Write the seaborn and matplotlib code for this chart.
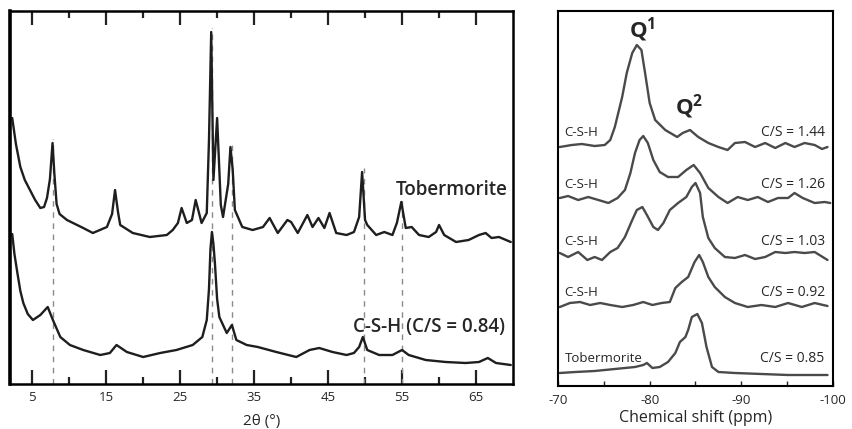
import numpy as np
import pandas as pd
import matplotlib
matplotlib.use("Agg")
import matplotlib.pyplot as plt
import seaborn as sns

# ---------------- XRD patterns (2θ in degrees, intensity in arbitrary units, offset) ----------------
tob_2theta = [2.3, 2.8, 3.4, 4.0, 4.7, 5.4, 6.1, 6.6, 7.0, 7.4, 7.75, 8.0, 8.3, 8.7, 9.7, 11.9,
              13.2, 15.1, 15.8, 16.2, 16.6, 16.9, 18.6, 20.9, 23.2, 24.0, 24.7, 25.2, 25.9, 26.6,
              27.1, 27.9, 28.6, 28.9, 29.2, 29.5, 30.0, 30.5, 30.8, 31.5, 31.8, 32.1, 32.4, 33.4,
              34.8, 36.2, 37.1, 38.2, 39.5, 40.0, 40.9, 42.2, 42.9, 43.7, 44.5, 45.2, 46.1, 47.5,
              48.5, 49.2, 49.6, 50.0, 50.3, 51.5, 52.6, 53.7, 54.3, 54.9, 55.5, 56.3, 57.3, 58.6,
              59.6, 60.0, 60.7, 62.3, 64.0, 65.4, 66.3, 67.1, 68.1, 69.7]
tob_int = [266, 240, 217, 204, 194, 184, 176, 177, 186, 205, 241, 210, 180, 170, 164, 156,
           151, 157, 170, 194, 172, 159, 151, 147, 149, 154, 161, 176, 161, 164,
           184, 161, 171, 244, 352, 204, 266, 179, 167, 200, 237, 215, 174, 157,
           154, 157, 166, 151, 164, 162, 151, 169, 157, 166, 156, 171, 151, 149,
           152, 167, 212, 164, 159, 149, 152, 149, 161, 182, 156, 157, 149, 147,
           152, 159, 149, 142, 144, 149, 151, 146, 147, 142]

csh_2theta = [2.3, 2.6, 3.0, 3.4, 3.8, 4.4, 5.1, 6.1, 7.1, 7.8, 8.8, 10.1, 11.9, 14.2, 15.5, 16.4,
              17.8, 20.0, 22.3, 24.5, 26.7, 28.0, 28.6, 28.9, 29.1, 29.3, 29.5, 29.7, 30.0, 30.3,
              31.3, 32.0, 32.6, 34.0, 35.5, 38.0, 40.7, 42.5, 43.8, 45.6, 47.5, 48.5, 49.2, 49.7,
              50.3, 51.9, 53.7, 55.0, 55.9, 58.2, 60.9, 63.6, 65.4, 66.6, 67.7, 69.7]
csh_int = [150, 130, 111, 93, 81, 70, 64, 69, 77, 64, 47, 39, 34, 29, 31, 39,
           32, 27, 31, 34, 39, 47, 64, 95, 135, 152, 140, 121, 85, 67,
           51, 59, 44, 39, 37, 32, 27, 34, 36, 32, 29, 31, 37, 47,
           34, 29, 29, 34, 29, 24, 22, 21, 22, 26, 21, 19]

# reflections shared by both phases
ref_lines = [7.8, 29.3, 32.0, 49.8, 55.0]

# ---------------- 29Si NMR spectra (ppm, stacked intensity) ----------------
nmr_ppm_144 = [-70.2, -71.5, -72.6, -74.0, -75.1, -75.7, -76.2, -77.0, -77.5, -78.1, -78.6, -79.1,
               -79.5, -80.0, -80.6, -81.7, -83.0, -83.6, -84.4, -85.3, -86.4, -87.5, -88.5, -89.3,
               -90.4, -91.5, -92.6, -93.7, -94.8, -95.8, -96.9, -98.0, -98.8, -99.4]
nmr_int_144 = [239, 241, 242, 240, 241, 246, 259, 289, 313, 333, 341, 336,
               313, 283, 266, 256, 249, 253, 256, 249, 243, 239, 236, 243,
               244, 239, 243, 238, 243, 239, 243, 241, 237, 239]

nmr_ppm_126 = [-70.2, -71.1, -72.2, -73.3, -74.4, -75.5, -76.5, -77.3, -77.9, -78.4, -78.9, -79.3,
               -79.8, -80.4, -81.1, -82.0, -83.1, -84.0, -84.8, -85.5, -86.4, -87.5, -88.5, -89.6,
               -90.7, -91.8, -92.9, -94.0, -95.1, -95.8, -96.7, -98.0, -99.1, -99.7]
nmr_int_126 = [188, 190, 186, 189, 186, 183, 188, 196, 213, 233, 246, 250,
               243, 226, 214, 209, 209, 216, 221, 213, 198, 189, 183, 189,
               186, 189, 184, 188, 188, 193, 188, 183, 184, 183]

nmr_ppm_103 = [-70.2, -71.1, -72.2, -73.2, -74.0, -74.8, -75.7, -76.5, -77.3, -78.1, -78.6, -79.2,
               -79.7, -80.4, -80.9, -81.5, -82.2, -83.1, -84.0, -84.6, -85.0, -85.5, -85.8, -86.4,
               -87.1, -88.2, -89.3, -90.4, -91.5, -92.6, -93.7, -94.8, -95.8, -96.9, -98.0, -99.4]
nmr_int_103 = [133, 129, 134, 126, 129, 126, 134, 138, 149, 166, 176, 179,
               171, 159, 156, 163, 176, 183, 189, 199, 203, 193, 169, 148,
               138, 129, 128, 131, 127, 129, 134, 133, 134, 133, 134, 126]

nmr_ppm_092 = [-70.2, -71.3, -72.4, -73.5, -74.6, -75.7, -77.0, -78.2, -79.3, -80.3, -81.3, -82.2,
               -82.8, -83.5, -84.2, -84.9, -85.4, -85.8, -86.4, -87.1, -88.2, -89.3, -90.7, -92.2,
               -93.7, -95.1, -96.6, -98.0, -99.4]
nmr_int_092 = [79, 83, 84, 81, 83, 81, 79, 81, 84, 81, 83, 84,
               98, 104, 109, 124, 131, 124, 109, 99, 89, 83, 79, 81,
               79, 83, 79, 83, 80]

nmr_ppm_085 = [-70.2, -71.9, -74.0, -76.2, -78.4, -79.3, -79.7, -80.3, -81.1, -82.0, -82.8, -83.3,
               -83.9, -84.2, -84.6, -85.2, -85.7, -86.2, -86.8, -87.5, -89.3, -92.2, -95.1, -99.4]
nmr_int_085 = [13, 14, 15, 17, 19, 21, 23, 18, 19, 24, 33, 44,
               49, 56, 69, 72, 63, 39, 19, 14, 13, 12, 11, 11]

nmr_left_labels = ["C-S-H", "C-S-H", "C-S-H", "C-S-H", "Tobermorite"]
nmr_right_labels = ["C/S = 1.44", "C/S = 1.26", "C/S = 1.03", "C/S = 0.92", "C/S = 0.85"]
nmr_label_y = [253, 201, 144, 94, 28]

# ---------------- figure ----------------
sns.set_theme(style="white")
plt.rcParams["font.family"] = ["Open Sans", "DejaVu Sans"]
plt.rcParams["axes.unicode_minus"] = False
plt.rcParams["mathtext.fontset"] = "custom"
plt.rcParams["mathtext.rm"] = "Open Sans"
plt.rcParams["mathtext.bf"] = "Open Sans:bold"

fig = plt.figure(figsize=(8.52, 4.29), dpi=100)
ax1 = fig.add_axes([10 / 852, 45 / 429, 503 / 852, 373 / 429])
ax2 = fig.add_axes([558 / 852, 43 / 429, 275 / 852, 375 / 429])

# ---- XRD panel ----
xrd_color = "#1e1e1e"
sns.lineplot(x=tob_2theta, y=tob_int, ax=ax1, color=xrd_color, linewidth=1.7,
             sort=False, estimator=None)
sns.lineplot(x=csh_2theta, y=csh_int, ax=ax1, color=xrd_color, linewidth=1.7,
             sort=False, estimator=None)

tx = np.asarray(tob_2theta)
ti = np.asarray(tob_int)
for pos in ref_lines:
    top = ti[np.abs(tx - pos) < 0.6].max() + 4
    ax1.vlines(pos, 0, top, colors="#8a8a8a", linestyles=(0, (4, 4)), linewidth=1.0, zorder=1)

ax1.text(61.7, 194, "Tobermorite", ha="center", va="center", fontsize=13.5, fontweight="semibold")
ax1.text(58.6, 57, "C-S-H (C/S = 0.84)", ha="center", va="center", fontsize=13.5,
         fontweight="semibold")

ax1.set_xlim(2, 70)
ax1.set_ylim(0, 373)
ax1.set_xticks([5, 15, 25, 35, 45, 55, 65])
ax1.set_xticks([10, 20, 30, 40, 50, 60], minor=True)
ax1.set_yticks([])
ax1.tick_params(axis="x", which="both", direction="in", top=True, bottom=True,
                width=1.6, color="#222222", labelsize=9.5, pad=5)
ax1.tick_params(axis="x", which="major", length=10)
ax1.tick_params(axis="x", which="minor", length=5)
ax1.set_xlabel("2θ (°)", fontsize=11, labelpad=7)
ax1.set_ylabel("")
for sp in ax1.spines.values():
    sp.set_color("black")
    sp.set_linewidth(1.8)
ax1.spines["left"].set_linewidth(2.6)

# ---- NMR panel ----
nmr_color = "#4a4a4a"
spectra = [(nmr_ppm_144, nmr_int_144), (nmr_ppm_126, nmr_int_126), (nmr_ppm_103, nmr_int_103),
           (nmr_ppm_092, nmr_int_092), (nmr_ppm_085, nmr_int_085)]
for ppm, inten in spectra:
    sns.lineplot(x=ppm, y=inten, ax=ax2, color=nmr_color, linewidth=1.7,
                 sort=False, estimator=None)

for lbl, rlbl, yy in zip(nmr_left_labels, nmr_right_labels, nmr_label_y):
    ax2.text(-70.7, yy, lbl, ha="left", va="center", fontsize=9.5)
    ax2.text(-99.1, yy, rlbl, ha="right", va="center", fontsize=10)

ax2.text(-79.2, 356, r"$\mathbf{Q^1}$", ha="center", va="center", fontsize=16)
ax2.text(-84.3, 279, r"$\mathbf{Q^2}$", ha="center", va="center", fontsize=16)

ax2.set_xlim(-70, -100)
ax2.set_ylim(0, 375)
ax2.set_xticks([-70, -80, -90, -100])
ax2.set_xticklabels(["-70", "-80", "-90", "-100"])
ax2.set_xticks([-75, -85, -95], minor=True)
ax2.set_yticks([])
ax2.tick_params(axis="x", which="both", direction="in", bottom=True, top=False,
                length=3.5, width=1.0, color="#222222", labelsize=9.5, pad=6)
ax2.set_xlabel("Chemical shift (ppm)", fontsize=11.5, labelpad=2)
ax2.set_ylabel("")
for sp in ax2.spines.values():
    sp.set_color("black")
    sp.set_linewidth(1.5)

fig.savefig("out.png", dpi=100, facecolor="white")
